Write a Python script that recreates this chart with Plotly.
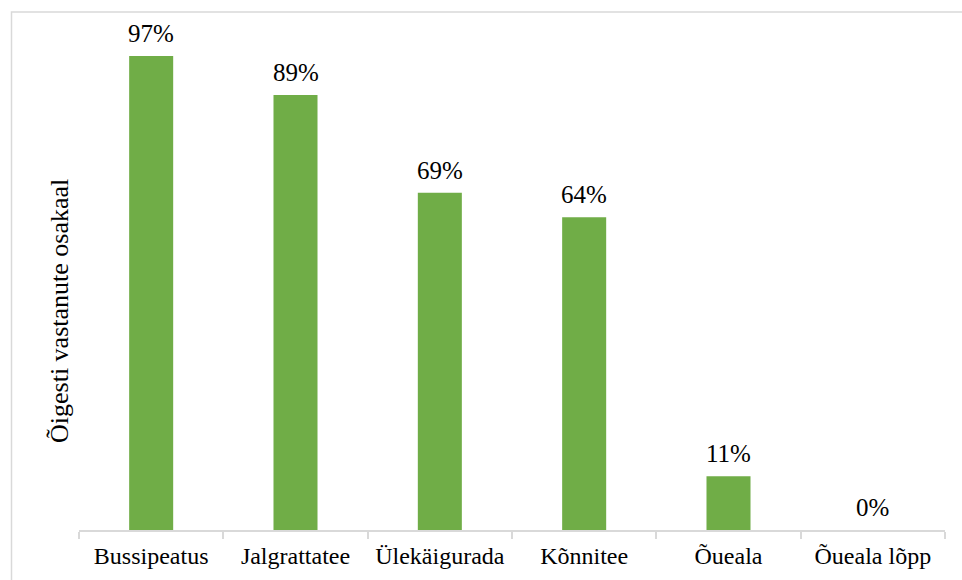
import plotly.graph_objects as go

categories = ["Bussipeatus", "Jalgrattatee", "Ülekäigurada", "Kõnnitee", "Õueala", "Õueala lõpp"]
values = [97, 89, 69, 64, 11, 0]
labels = ["97%", "89%", "69%", "64%", "11%", "0%"]
y_title = "Õigesti vastanute osakaal"

W, H = 962, 580
ml, mr, mt, mb = 79, 17, 12, 50
pw, ph = W - ml - mr, H - mt - mb

font_family = "Liberation Serif"

fig = go.Figure()
fig.add_trace(go.Bar(
    x=categories, y=values,
    marker=dict(color="#70AD47", line=dict(width=0)),
    width=0.305,
    hoverinfo="skip",
))

annotations = []
for c, v, t in zip(categories, values, labels):
    annotations.append(dict(
        x=c, y=v, xref="x", yref="y", text=t, showarrow=False,
        yanchor="bottom", yshift=7,
        font=dict(family=font_family, size=25, color="#000000"),
    ))

# y-axis title as annotation
annotations.append(dict(
    x=(59 - ml) / pw, y=(H - mb - 311) / ph, xref="paper", yref="paper",
    text=y_title, textangle=-90, showarrow=False,
    xanchor="center", yanchor="middle",
    font=dict(family=font_family, size=26, color="#000000"),
))

fig.update_layout(
    width=W, height=H,
    margin=dict(l=ml, r=mr, t=mt, b=mb, autoexpand=False),
    paper_bgcolor="white", plot_bgcolor="white",
    font=dict(family=font_family, color="#000000"),
    showlegend=False,
    annotations=annotations,
    shapes=[dict(
        type="rect", xref="paper", yref="paper",
        x0=(11.5 - ml) / pw, x1=1.2,
        y0=-0.3, y1=(H - mb - 12) / ph,
        line=dict(color="#d9d9d9", width=1.5),
        fillcolor="rgba(0,0,0,0)", layer="below",
    )],
    xaxis=dict(
        showline=True, linecolor="#d9d9d9", linewidth=1.5,
        ticks="outside", tickson="boundaries", ticklen=7, tickcolor="#d9d9d9", tickwidth=1.5,
        tickfont=dict(family=font_family, size=24, color="#000000"),
        ticklabelstandoff=3,
        showgrid=False, zeroline=False, automargin=False,
    ),
    yaxis=dict(
        range=[0, ph / 4.887],
        showticklabels=False, showgrid=False, zeroline=False, showline=False, ticks="",
        automargin=False,
    ),
)

fig.write_html(
    "out.html",
    config={"displayModeBar": False},
    post_script="document.body.style.margin='0';document.body.style.overflow='hidden';",
)
